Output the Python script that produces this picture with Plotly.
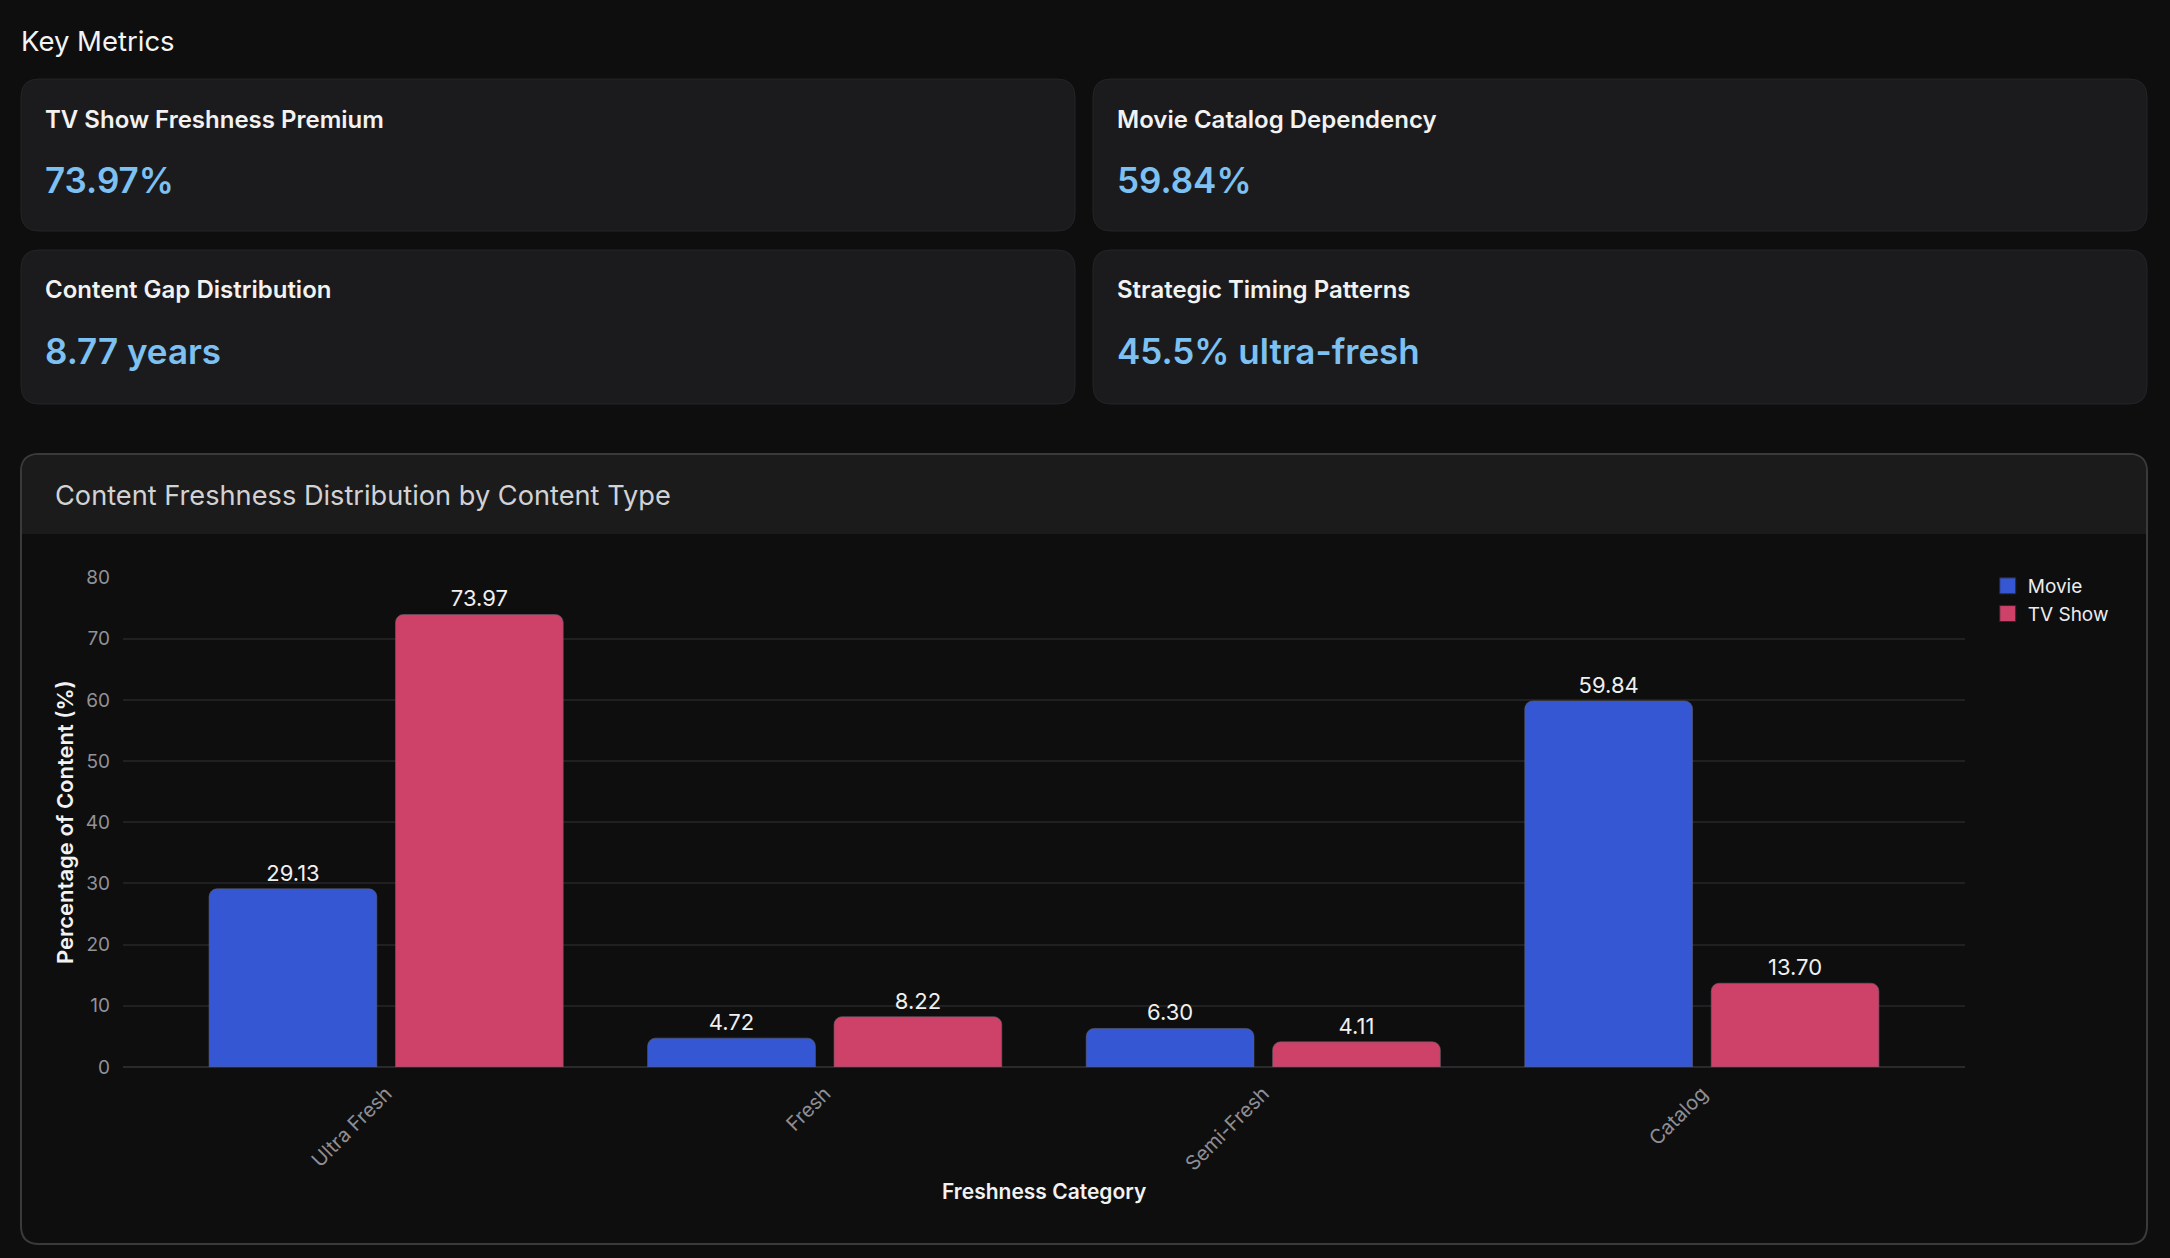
import plotly.graph_objects as go

# chart data
categories = ["Ultra Fresh", "Fresh", "Semi-Fresh", "Catalog"]
movie_pct = [29.13, 4.72, 6.30, 59.84]
tv_pct = [73.97, 8.22, 4.11, 13.70]
series_names = ["Movie", "TV Show"]
series_colors = ["#3557d4", "#ce4169"]
y_ticks = [0, 10, 20, 30, 40, 50, 60, 70, 80]

# key metric cards
metric_titles = ["TV Show Freshness Premium", "Movie Catalog Dependency",
                 "Content Gap Distribution", "Strategic Timing Patterns"]
metric_values = ["73.97%", "59.84%", "8.77 years", "45.5% ultra-fresh"]

W, H = 2170, 1258
BG = "#0e0e0f"
CARD = "#1b1b1d"
FONT = "Inter"


def px(x):
    return x / W


def py(y):
    return 1 - y / H


def rounded(x0, y0, x1, y1, r, bottom=True):
    # svg path in paper coords built from pixel corners
    pts = [
        f"M {px(x0 + r)},{py(y0)}",
        f"L {px(x1 - r)},{py(y0)}",
        f"Q {px(x1)},{py(y0)} {px(x1)},{py(y0 + r)}",
    ]
    if bottom:
        pts += [
            f"L {px(x1)},{py(y1 - r)}",
            f"Q {px(x1)},{py(y1)} {px(x1 - r)},{py(y1)}",
            f"L {px(x0 + r)},{py(y1)}",
            f"Q {px(x0)},{py(y1)} {px(x0)},{py(y1 - r)}",
        ]
    else:
        pts += [f"L {px(x1)},{py(y1)}", f"L {px(x0)},{py(y1)}"]
    pts += [f"L {px(x0)},{py(y0 + r)}", f"Q {px(x0)},{py(y0)} {px(x0 + r)},{py(y0)}", "Z"]
    return " ".join(pts)


fig = go.Figure()
for name, vals, col in zip(series_names, [movie_pct, tv_pct], series_colors):
    fig.add_trace(go.Bar(
        x=categories, y=vals, name=name, showlegend=False,
        marker=dict(color=col, line=dict(color="rgba(95,95,105,0.6)", width=1), cornerradius=8),
        texttemplate="%{y:.2f}", textposition="outside",
        textfont=dict(size=22, color="#f0f0f0", family=FONT), cliponaxis=False,
    ))
# bigger legend squares than the bar default
for name, col in zip(series_names, series_colors):
    fig.add_trace(go.Scatter(
        x=[None], y=[None], mode="markers", name=name,
        marker=dict(symbol="square", size=20, color=col, line=dict(color="#2a2a30", width=1)),
    ))

shapes = []
annotations = []

# metric cards
card_boxes = [(21, 79, 1075, 231), (1093, 79, 2147, 231),
              (21, 250, 1075, 404), (1093, 250, 2147, 404)]
for (x0, y0, x1, y1), title, value in zip(card_boxes, metric_titles, metric_values):
    shapes.append(dict(type="path", path=rounded(x0, y0, x1, y1, 18), xref="paper", yref="paper",
                       fillcolor=CARD, line=dict(color="#242427", width=1), layer="below"))
    annotations.append(dict(x=px(x0 + 22), y=py(y0 + 40), xref="paper", yref="paper",
                            text=title, showarrow=False, xanchor="left", yanchor="middle",
                            font=dict(size=24, color="#f2f2f2", family=FONT, weight=600)))
    annotations.append(dict(x=px(x0 + 22), y=py(y0 + 101), xref="paper", yref="paper",
                            text=value, showarrow=False, xanchor="left", yanchor="middle",
                            font=dict(size=35, color="#7dc0f2", family=FONT, weight=600)))

annotations.append(dict(x=px(19), y=py(41), xref="paper", yref="paper", text="Key Metrics",
                        showarrow=False, xanchor="left", yanchor="middle",
                        font=dict(size=27.5, color="#f4f4f4", family=FONT)))

# chart panel
shapes.append(dict(type="path", path=rounded(21, 454, 2147, 1244, 18), xref="paper", yref="paper",
                   fillcolor=BG, line=dict(color="#3a3a3c", width=2), layer="below"))
shapes.append(dict(type="path", path=rounded(22, 455, 2146, 534, 17, bottom=False), xref="paper",
                   yref="paper", fillcolor="#1b1b1c", line=dict(width=0), layer="below"))
annotations.append(dict(x=px(53), y=py(495), xref="paper", yref="paper",
                        text="Content Freshness Distribution by Content Type",
                        showarrow=False, xanchor="left", yanchor="middle",
                        font=dict(size=27.2, color="#d2d2d4", family=FONT)))

# axis titles
annotations.append(dict(x=px(65), y=py(822), xref="paper", yref="paper",
                        text="Percentage of Content (%)", textangle=-90, showarrow=False,
                        xanchor="center", yanchor="middle",
                        font=dict(size=22, color="#f2f2f2", family=FONT, weight=600)))
annotations.append(dict(x=px(1044), y=py(1191), xref="paper", yref="paper",
                        text="Freshness Category", showarrow=False,
                        xanchor="center", yanchor="middle",
                        font=dict(size=21, color="#f2f2f2", family=FONT, weight=600)))

fig.update_layout(
    width=W, height=H, autosize=False,
    margin=dict(l=0, r=0, t=0, b=0, pad=0, autoexpand=False),
    paper_bgcolor=BG, plot_bgcolor=BG,
    font=dict(family=FONT, color="#e0e0e0"),
    barmode="group", bargap=0.15, bargroupgap=0.1,
    shapes=shapes, annotations=annotations,
    legend=dict(x=0.916, y=py(567), xanchor="left", yanchor="top", itemsizing="trace",
                bgcolor="rgba(0,0,0,0)", font=dict(size=19, color="#ececec", family=FONT),
                tracegroupgap=0),
    xaxis=dict(domain=[px(123), px(1965)], range=[-0.6, 3.6], tickangle=-45,
               tickfont=dict(size=20, color="#8e8e93", family=FONT), automargin=False,
               showgrid=False, zeroline=False, showline=False, ticks="", ticklabelstandoff=10),
    yaxis=dict(domain=[py(1067), py(577.6)], range=[0, 80], tickvals=y_ticks, automargin=False,
               tickfont=dict(size=19, color="#929297", family=FONT),
               gridcolor="#202022", gridwidth=2, zeroline=True, zerolinecolor="#2a2a2c",
               zerolinewidth=2, showline=False, ticks="", ticklabelstandoff=12),
)

fig.write_html("out.html", config={"displayModeBar": False},
               post_script="document.body.style.margin='0';document.body.style.overflow='hidden';")
